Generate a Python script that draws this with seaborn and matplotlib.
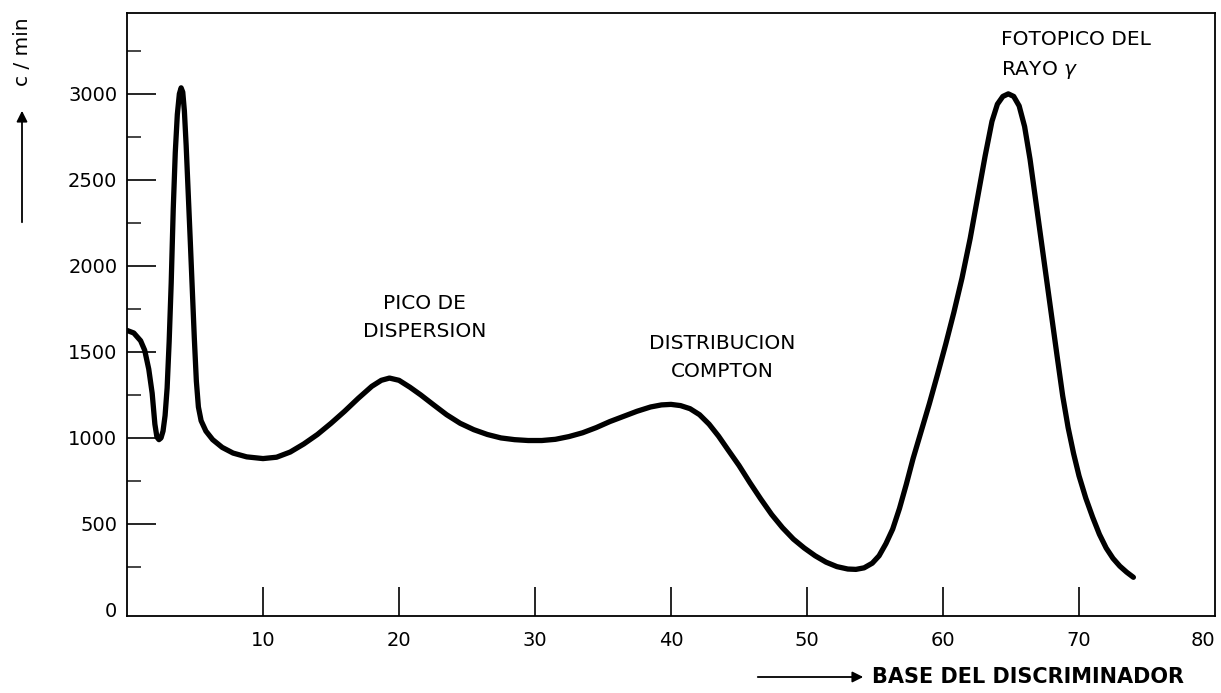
import matplotlib
matplotlib.use("Agg")
import matplotlib.pyplot as plt
import seaborn as sns
import pandas as pd

# Pulse-height spectrum: counting rate versus discriminator base setting
base_setting = [0, 0.5, 1.0, 1.3, 1.6, 1.85, 2.05, 2.2, 2.35, 2.5, 2.65, 2.8, 2.95, 3.1,
                3.25, 3.4, 3.55, 3.7, 3.85, 3.98, 4.1, 4.22, 4.35, 4.5, 4.65, 4.8, 4.95,
                5.1, 5.25, 5.45, 5.8, 6.3, 7.0, 7.8, 8.8, 10.0, 11.0, 12.0, 13.0, 14.0,
                15.0, 16.0, 17.0, 18.0, 18.7, 19.3, 20.0, 20.8, 21.6, 22.5, 23.5, 24.5,
                25.5, 26.5, 27.5, 28.5, 29.5, 30.5, 31.5, 32.5, 33.5, 34.5, 35.5, 36.5,
                37.5, 38.5, 39.3, 40.0, 40.7, 41.4, 42.1, 42.8, 43.5, 44.2, 45.0, 45.8,
                46.6, 47.4, 48.2, 49.0, 49.8, 50.6, 51.4, 52.2, 53.0, 53.6, 54.2, 54.8,
                55.3, 55.8, 56.3, 56.8, 57.3, 57.8, 58.4, 59.0, 59.6, 60.2, 60.8, 61.4,
                62.0, 62.6, 63.1, 63.6, 64.0, 64.4, 64.8, 65.2, 65.6, 66.0, 66.4, 66.8,
                67.2, 67.6, 68.0, 68.4, 68.8, 69.2, 69.6, 70.0, 70.5, 71.0, 71.5, 72.0,
                72.5, 73.0, 73.5, 74.0]
counts_per_min = [1625, 1610, 1565, 1510, 1400, 1260, 1080, 1005, 990, 1000, 1040, 1130, 1290, 1560,
                  1900, 2330, 2660, 2880, 3000, 3035, 3010, 2900, 2700, 2430, 2150, 1870, 1580,
                  1330, 1180, 1100, 1040, 990, 945, 912, 890, 880, 888, 918, 965, 1020,
                  1085, 1155, 1230, 1300, 1335, 1348, 1335, 1295, 1250, 1195, 1135, 1085,
                  1048, 1020, 1000, 990, 985, 985, 992, 1008, 1030, 1060, 1095, 1125,
                  1155, 1180, 1192, 1195, 1188, 1170, 1135, 1080, 1010, 930, 840, 740,
                  645, 555, 478, 412, 360, 315, 278, 252, 238, 236, 245, 272,
                  315, 385, 470, 590, 730, 880, 1040, 1200, 1370, 1545, 1730, 1930,
                  2160, 2420, 2640, 2840, 2940, 2985, 3000, 2985, 2930, 2810, 2620, 2390,
                  2160, 1930, 1700, 1470, 1245, 1060, 910, 780, 650, 540, 440, 360,
                  300, 255, 220, 190]

x_ticks = [10, 20, 30, 40, 50, 60, 70, 80]
x_tick_labels = ["10", "20", "30", "40", "50", "60", "70", "80"]
y_ticks = [0, 500, 1000, 1500, 2000, 2500, 3000]
y_tick_labels = ["0", "500", "1000", "1500", "2000", "2500", "3000"]
y_minor_ticks = [250, 750, 1250, 1750, 2250, 2750, 3250]

sns.set_style("white")
plt.rcParams["font.family"] = ["DejaVu Sans"]
plt.rcParams["text.color"] = "black"

W, H = 1221, 693
fig = plt.figure(figsize=(W / 100, H / 100), dpi=100)
left, right, top, bottom = 127, 1215, 13, 616
ax = fig.add_axes([left / W, 1 - bottom / H, (right - left) / W, (bottom - top) / H])

df = pd.DataFrame({"base": base_setting, "cpm": counts_per_min})
sns.lineplot(data=df, x="base", y="cpm", ax=ax, color="black", linewidth=3.8,
             sort=False, estimator=None)
for ln in ax.lines:
    ln.set_solid_joinstyle("round")
    ln.set_solid_capstyle("round")

ax.set_xlim(0, 80)
ax.set_ylim(-35, 3470)
ax.set_xlabel("")
ax.set_ylabel("")

for s in ax.spines.values():
    s.set_visible(True)
    s.set_color("black")
    s.set_linewidth(1.3)

ax.set_xticks(x_ticks)
ax.set_xticklabels(x_tick_labels)
ax.set_yticks(y_ticks)
ax.set_yticklabels(y_tick_labels)
ax.set_yticks(y_minor_ticks, minor=True)

ax.tick_params(axis="x", which="major", direction="in", length=21, width=1.2,
               pad=11, labelsize=14, colors="black", bottom=True)
ax.tick_params(axis="y", which="major", direction="in", length=21, width=1.2,
               pad=7, labelsize=14, colors="black", left=True)
ax.tick_params(axis="y", which="minor", direction="in", length=10, width=1.2, left=True)

# no tick line at the origin or on the right frame edge
ax.yaxis.get_major_ticks()[0].tick1line.set_visible(False)
ax.xaxis.get_major_ticks()[-1].tick1line.set_visible(False)
ax.get_xticklabels()[-1].set_horizontalalignment("right")

txt = dict(fontsize=14.5, color="black", linespacing=1.6)
ax.text(21.9, 1700, "PICO DE\nDISPERSION", ha="center", va="center", **txt)
ax.text(43.8, 1465, "DISTRIBUCION\nCOMPTON", ha="center", va="center", **txt)
ax.text(64.3, 3370, "FOTOPICO DEL\nRAYO $\\gamma$", ha="left", va="top", **txt)

# axis captions with their arrows
fig.text(22 / W, 1 - 52 / H, "c / min", rotation=90, ha="center", va="center",
         fontsize=14.5, color="black")
fig.add_artist(matplotlib.patches.FancyArrowPatch(
    (22 / W, 1 - 225 / H), (22 / W, 1 - 108 / H), transform=fig.transFigure,
    arrowstyle="-|>", mutation_scale=16, color="black", linewidth=1.3))
fig.text(872 / W, 1 - 677 / H, "BASE DEL DISCRIMINADOR", ha="left", va="center",
         fontsize=15, fontweight="bold", color="black")
fig.add_artist(matplotlib.patches.FancyArrowPatch(
    (755 / W, 1 - 677 / H), (866 / W, 1 - 677 / H), transform=fig.transFigure,
    arrowstyle="-|>", mutation_scale=16, color="black", linewidth=1.3))

fig.savefig("out.png", dpi=100, facecolor="white")
